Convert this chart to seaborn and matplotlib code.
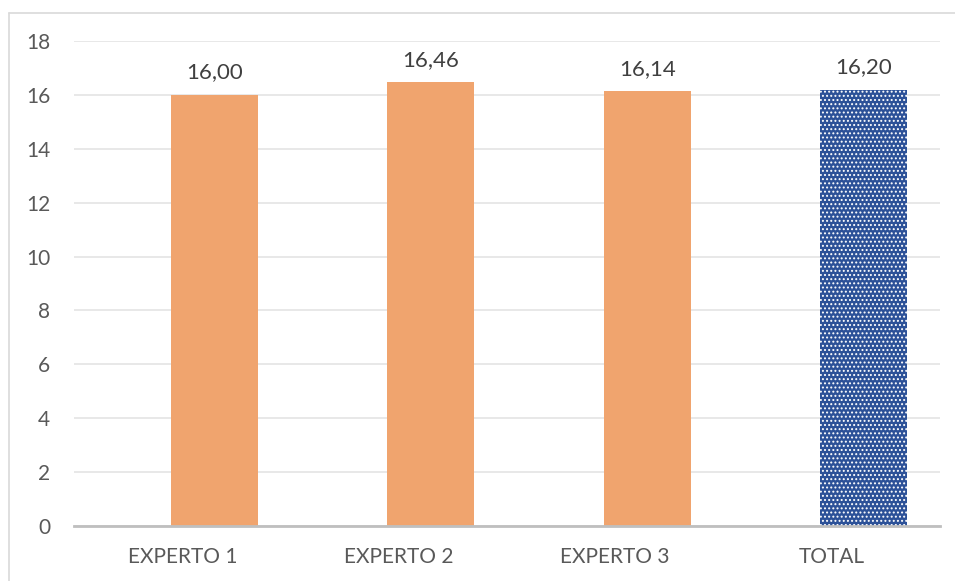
import matplotlib
matplotlib.use("Agg")
import matplotlib.pyplot as plt
import seaborn as sns
import pandas as pd
from matplotlib.lines import Line2D

categories = ["EXPERTO 1", "EXPERTO 2", "EXPERTO 3", "TOTAL"]
values = [16.00, 16.46, 16.14, 16.20]
labels = ["16,00", "16,46", "16,14", "16,20"]
yticks = [0, 2, 4, 6, 8, 10, 12, 14, 16, 18]

sns.set_theme(style="white")
plt.rcParams['font.family'] = ['Lato', 'DejaVu Sans']
plt.rcParams['hatch.linewidth'] = 0.9

df = pd.DataFrame({"cat": categories, "val": values})

W, H = 955, 581
fig = plt.figure(figsize=(W / 100, H / 100), dpi=100)
ax = fig.add_axes([74 / W, 1 - 526 / H, (940 - 74) / W, (526 - 41) / H])

orange = "#F0A46E"
blue = "#2C5198"
sns.barplot(data=df, x="cat", y="val", ax=ax, width=0.4,
            palette=[orange, orange, orange, blue], hue="cat", legend=False,
            saturation=1, linewidth=0)

# Excel-style offset of bars to the right of the category centre
shift = 0.148
for p in ax.patches:
    p.set_x(p.get_x() + shift)

p = ax.patches[3]
p.set_hatch("....")
p.set_edgecolor("white")
p.set_linewidth(0)

ax.set_xlim(-0.5, 3.5)
ax.set_ylim(0, 18)
ax.set_yticks(yticks)
ax.set_yticklabels([str(t) for t in yticks])
ax.yaxis.grid(True, color="#E4E4E4", linewidth=1.2)
ax.set_axisbelow(True)
for s in ["top", "right", "left"]:
    ax.spines[s].set_visible(False)
ax.spines["bottom"].set_color("#BFBFBF")
ax.spines["bottom"].set_linewidth(2)
ax.set_xlabel("")
ax.set_ylabel("")
ax.tick_params(axis="both", length=0, labelsize=15, labelcolor="#595959")
ax.tick_params(axis="y", pad=17)
ax.tick_params(axis="x", pad=15)

for i, (v, lab) in enumerate(zip(values, labels)):
    ax.annotate(lab, (i + shift, v), xytext=(0, 9), textcoords="offset points",
                ha="center", va="bottom", fontsize=16, color="#404040")

fig.add_artist(Line2D([9 / W, 9 / W], [0, 1 - 13 / H], transform=fig.transFigure,
                      color="#D9D9D9", linewidth=1.2))
fig.add_artist(Line2D([9 / W, 1], [1 - 13 / H, 1 - 13 / H], transform=fig.transFigure,
                      color="#D9D9D9", linewidth=1.2))

fig.savefig("out.png", dpi=100)
